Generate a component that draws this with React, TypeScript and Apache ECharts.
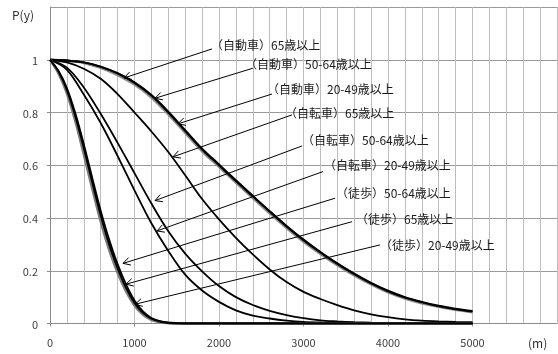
import { useEffect, useRef } from "react";
import * as echarts from "echarts";

// Distances (m)
const walkDist = [0, 100, 200, 300, 400, 500, 600, 700, 800, 900, 1000, 1100, 1200, 1300, 1400, 1500, 1600, 2000, 3000, 4000, 5000];
const rideDist = [0, 200, 400, 600, 800, 1000, 1200, 1400, 1600, 1800, 2000, 2200, 2400, 2600, 2800, 3000, 3200, 3400, 3600, 3800, 4000, 4200, 4400, 4600, 4800, 5000];

// 徒歩
const walk65 = [1, 0.95, 0.875, 0.77, 0.645, 0.515, 0.39, 0.282, 0.195, 0.124, 0.07, 0.035, 0.015, 0.006, 0.002, 0, 0, 0, 0, 0, 0];
const walk5064 = [1, 0.955, 0.885, 0.785, 0.665, 0.535, 0.41, 0.3, 0.21, 0.135, 0.078, 0.04, 0.018, 0.007, 0.002, 0.001, 0, 0, 0, 0, 0];
const walk2049 = [1, 0.958, 0.893, 0.797, 0.68, 0.552, 0.428, 0.318, 0.225, 0.148, 0.087, 0.046, 0.021, 0.009, 0.003, 0.001, 0, 0, 0, 0, 0];

// 自転車
const bike65 = [1, 0.99, 0.966, 0.928, 0.87, 0.8, 0.728, 0.65, 0.562, 0.472, 0.395, 0.325, 0.262, 0.205, 0.157, 0.12, 0.093, 0.07, 0.05, 0.035, 0.024, 0.016, 0.011, 0.008, 0.006, 0.005];
const bike5064 = [1, 0.97, 0.895, 0.795, 0.685, 0.57, 0.455, 0.35, 0.265, 0.198, 0.142, 0.1, 0.07, 0.048, 0.032, 0.02, 0.012, 0.008, 0.005, 0.003, 0.002, 0.001, 0.001, 0, 0, 0];
const bike2049 = [1, 0.962, 0.868, 0.76, 0.635, 0.505, 0.38, 0.275, 0.185, 0.125, 0.082, 0.05, 0.03, 0.019, 0.011, 0.006, 0.004, 0.003, 0.002, 0.001, 0.001, 0, 0, 0, 0, 0];

// 自動車
const car65 = [1, 0.997, 0.99, 0.974, 0.949, 0.914, 0.866, 0.803, 0.733, 0.663, 0.603, 0.543, 0.484, 0.426, 0.37, 0.318, 0.271, 0.228, 0.189, 0.154, 0.124, 0.1, 0.082, 0.067, 0.056, 0.047];
const car5064 = [1, 0.997, 0.99, 0.973, 0.948, 0.912, 0.864, 0.8, 0.73, 0.66, 0.6, 0.54, 0.482, 0.424, 0.368, 0.316, 0.269, 0.226, 0.187, 0.152, 0.122, 0.098, 0.08, 0.065, 0.054, 0.045];
const car2049 = [1, 0.996, 0.988, 0.969, 0.942, 0.906, 0.857, 0.793, 0.723, 0.653, 0.594, 0.534, 0.476, 0.418, 0.362, 0.31, 0.264, 0.221, 0.182, 0.148, 0.118, 0.095, 0.077, 0.063, 0.052, 0.043];

// Annotations
const annoLabels = [
  "（自動車）65歳以上",
  "（自動車）50-64歳以上",
  "（自動車）20-49歳以上",
  "（自転車）65歳以上",
  "（自転車）50-64歳以上",
  "（自転車）20-49歳以上",
  "（徒歩）50-64歳以上",
  "（徒歩）65歳以上",
  "（徒歩）20-49歳以上",
];
const annoTextV = [1976, 2379, 2639, 2852, 3053, 3314, 3456, 3692, 3976];
const annoTextP = [1.056, 0.987, 0.892, 0.801, 0.698, 0.601, 0.496, 0.399, 0.301];
const annoLineV = [1917, 2402, 2627, 2864, 2982, 3231, 3373, 3574, 3905];
const annoLineP = [1.041, 0.968, 0.87, 0.791, 0.673, 0.576, 0.475, 0.386, 0.298];
const annoTipV = [876, 1243, 1515, 1456, 1243, 1266, 864, 899, 1006];
const annoTipP = [0.931, 0.854, 0.757, 0.632, 0.466, 0.351, 0.228, 0.149, 0.073];

const xTicks = [0, 1000, 2000, 3000, 4000, 5000, 6000];

const FONT = "'Noto Sans CJK JP', 'Noto Sans', sans-serif";

function pairs(xs: number[], ys: number[]) {
  return xs.map((x, i) => [x, ys[i]]);
}

function lineSeries(name: string, xs: number[], ys: number[], color: string, width: number) {
  return {
    name,
    type: "line",
    data: pairs(xs, ys),
    showSymbol: false,
    symbol: "none",
    smooth: 0.35,
    lineStyle: { color, width },
    silent: true,
  };
}

export default function App() {
  const ref = useRef<HTMLDivElement>(null);
  useEffect(() => {
    const chart = echarts.init(ref.current!, null, { renderer: "svg" });
    const option: any = {
      animation: false,
      grid: { left: 50, right: 1, top: 7, bottom: 30.5, containLabel: false },
      xAxis: {
        type: "value",
        min: xTicks[0],
        max: xTicks[xTicks.length - 1],
        interval: 1000,
        axisLine: { show: true, lineStyle: { color: "#8c8c8c", width: 1 } },
        axisTick: { show: true, length: 3, lineStyle: { color: "#8c8c8c" } },
        axisLabel: {
          showMaxLabel: false,
          fontSize: 11,
          color: "#404040",
          fontFamily: FONT,
          margin: 13,
          formatter: (v: number) => String(v),
        },
        splitLine: { show: true, lineStyle: { color: "#bdbdbd", width: 1 } },
        minorTick: { show: false, splitNumber: 5 },
        minorSplitLine: { show: true, lineStyle: { color: "#bdbdbd", width: 1 } },
      },
      yAxis: {
        type: "value",
        min: 0,
        max: 1.2,
        interval: 0.2,
        axisLine: { show: true, lineStyle: { color: "#8c8c8c", width: 1 } },
        axisTick: { show: true, length: 3, lineStyle: { color: "#8c8c8c" } },
        axisLabel: {
          showMaxLabel: false,
          fontSize: 11,
          color: "#404040",
          fontFamily: FONT,
          margin: 12,
          formatter: (v: number) => String(Math.round(v * 10) / 10),
        },
        splitLine: { show: true, lineStyle: { color: "#9a9a9a", width: 1 } },
      },
      graphic: [
        { type: "text", left: 12, top: 8, style: { text: "P(y)", fontSize: 12, fill: "#303030", fontFamily: FONT } },
        { type: "text", left: 528, top: 336, style: { text: "(m)", fontSize: 12, fill: "#303030", fontFamily: FONT } },
      ],
      series: [
        lineSeries("（自動車）20-49歳以上", rideDist, car2049, "#8a8a8a", 2.5),
        lineSeries("（自動車）50-64歳以上", rideDist, car5064, "#111", 2),
        lineSeries("（自動車）65歳以上", rideDist, car65, "#000", 2),
        lineSeries("（自転車）65歳以上", rideDist, bike65, "#000", 1.8),
        lineSeries("（自転車）50-64歳以上", rideDist, bike5064, "#000", 1.8),
        lineSeries("（自転車）20-49歳以上", rideDist, bike2049, "#000", 1.8),
        lineSeries("（徒歩）65歳以上", walkDist, walk65, "#7a7a7a", 3),
        lineSeries("（徒歩）50-64歳以上", walkDist, walk5064, "#000", 1.8),
        lineSeries("（徒歩）20-49歳以上", walkDist, walk2049, "#000", 1.8),
        {
          type: "custom",
          coordinateSystem: "cartesian2d",
          silent: true,
          clip: false,
          z: 10,
          encode: { x: [0, 2, 4], y: [1, 3, 5] },
          data: annoLabels.map((_, i) => [annoTextV[i], annoTextP[i], annoLineV[i], annoLineP[i], annoTipV[i], annoTipP[i]]),
          renderItem: (params: any, api: any) => {
            const i = params.dataIndex;
            const t = api.coord([api.value(0), api.value(1)]);
            const s = api.coord([api.value(2), api.value(3)]);
            const e = api.coord([api.value(4), api.value(5)]);
            const ang = Math.atan2(s[1] - e[1], s[0] - e[0]);
            const L = 8;
            const a = 0.5;
            const p1 = [e[0] + L * Math.cos(ang + a), e[1] + L * Math.sin(ang + a)];
            const p2 = [e[0] + L * Math.cos(ang - a), e[1] + L * Math.sin(ang - a)];
            return {
              type: "group",
              children: [
                { type: "line", shape: { x1: s[0], y1: s[1], x2: e[0], y2: e[1] }, style: { stroke: "#000", lineWidth: 1 } },
                { type: "polyline", shape: { points: [p1, e, p2] }, style: { stroke: "#000", fill: null, lineWidth: 1 } },
                {
                  type: "text",
                  x: t[0] - 6,
                  y: t[1],
                  style: { text: annoLabels[i], fontSize: 12, fontFamily: FONT, fill: "#1a1a1a", verticalAlign: "middle", align: "left" },
                },
              ],
            };
          },
        },
      ],
    };
    chart.setOption(option);
    return () => chart.dispose();
  }, []);
  return <div ref={ref} style={{ position: "fixed", left: 0, top: 0, width: 558, height: 354 }} />;
}
